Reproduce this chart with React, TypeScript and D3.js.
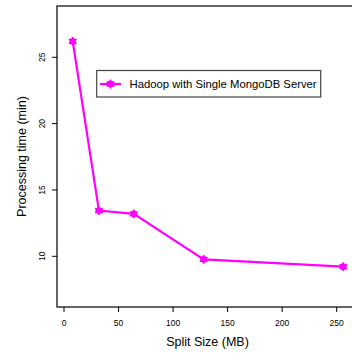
import React, { useEffect, useRef } from 'react';
import * as d3 from 'd3';

const splitSizes = [8, 32, 64, 128, 256];
const procTimes = [26.2, 13.45, 13.2, 9.77, 9.22];
const xTicks = [0, 50, 100, 150, 200, 250];
const yTicks = [10, 15, 20, 25];
const seriesName = 'Hadoop with Single MongoDB Server';

const W = 352;
const H = 354;
const COLOR = '#ff00ff';

export default function App() {
  const ref = useRef<SVGSVGElement>(null);

  useEffect(() => {
    const svg = d3.select(ref.current);
    svg.selectAll('*').remove();

    // box runs past the right edge of the picture, as in the original
    const left = 57, top = 6, bottom = 307, right = 358;
    const x = d3.scaleLinear().domain([0, 250]).range([64, 336.7]);
    const y = d3.scaleLinear().domain([10, 25]).range([256.3, 57.3]);

    const font = 'Liberation Sans, Arial, Helvetica, sans-serif';

    // plot box
    svg.append('rect')
      .attr('x', left).attr('y', top)
      .attr('width', right - left).attr('height', bottom - top)
      .attr('fill', 'none').attr('stroke', '#000').attr('stroke-width', 1.2);

    // x axis
    const xa = svg.append('g');
    xa.selectAll('line').data(xTicks).join('line')
      .attr('x1', d => x(d)).attr('x2', d => x(d))
      .attr('y1', bottom).attr('y2', bottom + 5)
      .attr('stroke', '#000');
    xa.selectAll('text').data(xTicks).join('text')
      .attr('x', d => x(d)).attr('y', bottom + 19)
      .attr('text-anchor', 'middle')
      .attr('font-family', font).attr('font-size', 8.5)
      .text(d => d);

    // y axis
    const ya = svg.append('g');
    ya.selectAll('line').data(yTicks).join('line')
      .attr('x1', left - 5).attr('x2', left)
      .attr('y1', d => y(d)).attr('y2', d => y(d))
      .attr('stroke', '#000');
    ya.selectAll('text').data(yTicks).join('text')
      .attr('transform', d => `translate(45, ${y(d)}) rotate(-90)`)
      .attr('text-anchor', 'middle')
      .attr('font-family', font).attr('font-size', 8.5)
      .text(d => d);

    svg.append('text')
      .attr('x', (left + right) / 2).attr('y', 346)
      .attr('text-anchor', 'middle')
      .attr('font-family', font).attr('font-size', 12.5)
      .text('Split Size (MB)');
    svg.append('text')
      .attr('transform', `translate(25.5, ${(top + bottom) / 2}) rotate(-90)`)
      .attr('text-anchor', 'middle')
      .attr('font-family', font).attr('font-size', 12.5)
      .text('Processing time (min)');

    const data = splitSizes.map((s, i) => ({ s, t: procTimes[i] }));
    const line = d3.line<{ s: number; t: number }>().x(d => x(d.s)).y(d => y(d.t));

    svg.append('path')
      .datum(data)
      .attr('d', line)
      .attr('fill', 'none').attr('stroke', COLOR).attr('stroke-width', 2.2);

    const marker = (g: any) => {
      g.append('circle').attr('r', 3.4).attr('fill', COLOR);
      g.append('path')
        .attr('d', d3.symbol(d3.symbolAsterisk, 55)())
        .attr('fill', 'none').attr('stroke', COLOR).attr('stroke-width', 1.6);
    };

    data.forEach(d => {
      const g = svg.append('g').attr('transform', `translate(${x(d.s)}, ${y(d.t)})`);
      marker(g);
    });

    // legend
    const lg = svg.append('g');
    lg.append('rect')
      .attr('x', 96.7).attr('y', 70.5)
      .attr('width', 224).attr('height', 26.5)
      .attr('fill', '#fff').attr('stroke', '#444').attr('stroke-width', 1.2);
    lg.append('line')
      .attr('x1', 100).attr('x2', 121).attr('y1', 84).attr('y2', 84)
      .attr('stroke', COLOR).attr('stroke-width', 2.2);
    marker(lg.append('g').attr('transform', 'translate(110.5, 84)'));
    lg.append('text')
      .attr('x', 129.5).attr('y', 88.3)
      .attr('font-family', font).attr('font-size', 11.3)
      .text(seriesName);
  }, []);

  return <svg ref={ref} width={W} height={H} style={{ position: 'absolute', left: 0, top: 0 }} />;
}
